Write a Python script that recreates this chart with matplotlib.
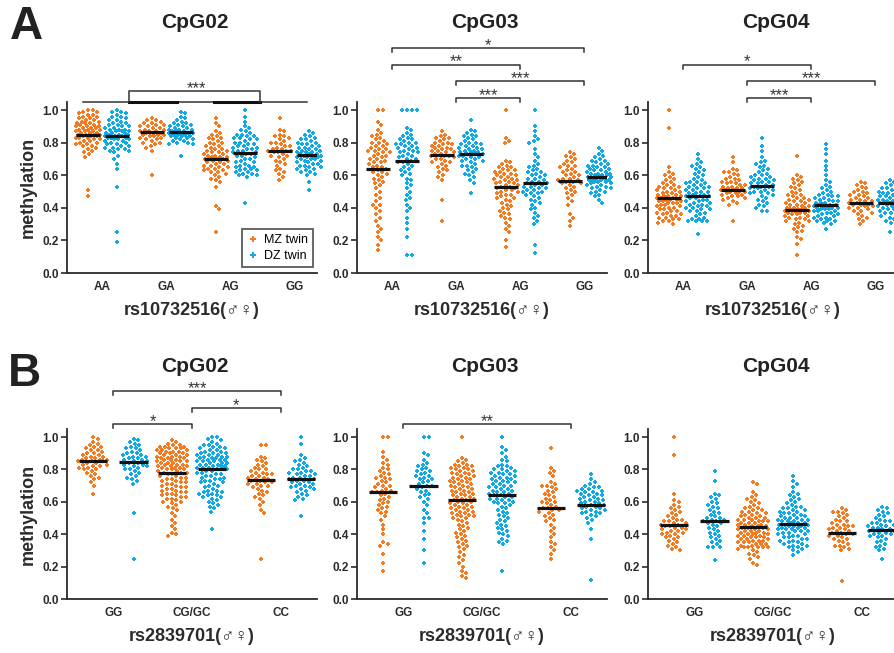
import numpy as np
import matplotlib
matplotlib.use("Agg")
import matplotlib.pyplot as plt
from matplotlib.lines import Line2D

plt.rcParams['font.family'] = ['Liberation Sans', 'DejaVu Sans']

MZ_COLOR = '#F47B20'
DZ_COLOR = '#11A9E6'
INK = '#2b2b2b'

# ---------------- data (methylation x 100) ----------------
geno_a = ['AA', 'GA', 'AG', 'GG']
geno_b = ['GG', 'CG/GC', 'CC']
cpgs = ['CpG02', 'CpG03', 'CpG04']

# rs10732516, CpG02
a02_aa_mz = [100,100,99,99,98,97,97,96,96,95,95,94,94,93,93,92,92,92,91,91,90,90,90,89,89,89,88,88,88,87,87,87,86,86,86,85,85,85,85,84,84,84,83,83,83,82,82,81,81,80,80,79,79,78,78,77,76,75,74,73,71,51,47]
a02_aa_dz = [100,99,99,98,97,96,96,95,94,94,93,92,92,91,91,90,90,89,89,88,88,88,87,87,87,86,86,86,85,85,85,84,84,84,83,83,83,82,82,82,81,81,80,80,79,79,78,78,77,77,76,76,75,75,74,72,70,67,64,53,25,19]
a02_ga_mz = [95,94,94,93,92,92,91,91,90,90,89,89,88,88,87,87,87,86,86,86,85,85,85,84,84,83,83,82,82,81,80,80,79,78,77,75,60]
a02_ga_dz = [99,98,96,95,94,93,92,92,91,91,90,90,89,89,88,88,88,87,87,87,86,86,86,86,85,85,85,84,84,84,83,83,82,82,81,81,80,80,79,79,72]
a02_ag_mz = [95,92,90,87,86,85,84,83,83,82,81,80,80,79,78,78,77,76,76,75,75,74,74,73,73,72,72,71,71,71,70,70,70,70,69,69,68,68,67,67,66,66,65,65,64,64,63,63,62,62,61,60,59,58,57,56,53,41,39,25]
a02_ag_dz = [100,96,93,90,89,88,87,86,85,85,84,84,83,83,82,82,81,80,80,79,79,78,78,77,77,76,76,75,75,74,74,73,73,72,72,71,70,70,69,68,68,67,66,66,65,65,64,64,63,63,62,62,61,61,60,60,59,43]
a02_gg_mz = [95,88,87,85,84,84,83,82,81,80,80,79,78,78,77,76,76,75,75,75,74,74,73,72,72,71,70,69,68,67,66,64,63,62,61,59,57]
a02_gg_dz = [87,86,85,84,83,82,82,81,80,80,79,79,78,78,77,77,76,76,75,75,74,74,74,73,73,73,72,72,72,71,71,71,70,70,70,69,69,68,68,67,67,66,66,65,65,64,64,63,62,62,61,60,56,51]

# rs10732516, CpG03
a03_aa_mz = [100,100,93,91,88,86,85,84,83,82,81,80,80,79,78,78,77,76,76,75,75,74,74,73,72,72,71,70,70,69,68,68,67,66,65,65,64,63,62,62,61,60,59,58,57,56,55,54,52,50,48,46,44,42,42,40,38,36,34,32,29,27,25,22,20,17,14]
a03_aa_dz = [100,100,100,100,89,88,86,85,84,83,82,82,81,80,80,79,79,78,78,77,77,76,75,75,74,74,73,72,72,71,70,70,69,68,68,67,66,65,64,63,62,61,60,58,57,55,54,52,50,48,46,45,42,40,38,34,31,27,22,11,11]
a03_ga_mz = [87,85,84,83,83,82,81,80,80,79,79,78,78,77,77,76,76,75,75,74,74,73,73,72,72,72,71,70,70,69,68,68,67,66,65,64,63,62,60,59,57,45,32]
a03_ga_dz = [94,88,87,86,85,84,84,83,82,81,80,80,79,79,78,78,77,77,76,76,75,75,74,74,74,73,73,73,72,72,71,71,70,70,69,69,68,67,66,66,65,64,63,62,61,60,59,57,55,49]
a03_ag_mz = [100,83,81,80,69,68,67,66,65,65,64,63,63,62,62,61,61,60,60,59,59,58,58,57,57,56,56,55,55,54,54,53,53,52,52,51,51,50,50,49,48,48,47,46,46,45,44,43,42,41,40,39,38,37,36,35,34,33,31,29,27,25,20,16]
a03_ag_dz = [100,90,87,84,82,81,80,76,73,71,69,67,66,65,64,63,62,62,61,60,60,59,58,58,57,56,56,55,55,54,54,53,53,52,52,51,51,50,50,49,49,48,47,46,45,44,43,42,40,39,37,35,34,32,30,17,12]
a03_gg_mz = [74,73,72,71,70,69,68,67,66,66,65,64,63,62,62,61,60,60,59,58,58,57,57,56,56,55,55,54,53,52,51,50,49,48,46,44,42,36,34,32,29]
a03_gg_dz = [77,75,73,72,71,70,69,69,68,67,67,66,66,65,65,64,64,63,63,62,62,61,61,61,60,60,60,59,59,59,58,58,58,57,57,57,56,56,56,55,55,54,54,53,53,52,52,51,50,50,49,48,47,45,43]

# rs10732516, CpG04
a04_aa_mz = [100,89,65,62,61,60,59,58,57,56,55,54,54,53,53,52,52,51,51,50,50,49,49,48,48,47,47,47,46,46,46,45,45,45,44,44,44,43,43,43,42,42,41,41,40,40,39,39,38,38,37,37,36,36,35,35,34,34,33,33,32,32,31,30]
a04_aa_dz = [73,70,68,67,66,65,64,63,62,61,60,59,58,57,56,56,55,55,54,54,53,53,52,52,51,51,50,50,49,49,48,48,47,47,47,46,46,45,45,44,44,43,43,42,42,41,41,40,40,39,39,38,38,37,36,35,34,33,33,32,32,32,32,24]
a04_ga_mz = [71,68,64,63,62,62,61,60,59,58,58,57,56,56,55,55,54,54,53,53,52,52,52,51,51,51,50,50,50,49,49,48,48,47,47,46,46,45,44,43,42,32]
a04_ga_dz = [83,78,75,71,69,68,67,66,65,64,63,62,61,60,60,59,59,58,58,57,57,56,56,55,55,54,54,53,53,53,52,52,51,51,50,50,49,49,48,47,46,45,44,43,42,41,40,38,38]
a04_ag_mz = [72,60,59,58,57,56,55,54,53,52,51,50,49,48,48,47,46,46,45,45,44,44,43,43,42,42,41,41,40,40,40,39,39,39,38,38,38,37,37,37,36,36,35,35,34,34,33,33,32,32,31,30,29,28,27,26,25,22,21,18,11]
a04_ag_dz = [79,76,73,69,66,63,60,57,56,54,53,52,51,50,49,48,48,47,47,46,46,45,45,44,44,43,43,43,42,42,42,41,41,41,40,40,40,39,39,39,38,38,38,37,37,36,36,35,35,34,34,33,33,32,32,32,31,30,27]
a04_gg_mz = [56,55,54,53,52,51,50,50,49,48,48,47,46,46,45,45,44,44,43,43,42,42,42,41,41,40,40,39,38,38,37,36,35,34,33,32,30]
a04_gg_dz = [57,56,55,54,53,52,52,51,50,50,49,49,48,48,47,47,46,46,45,45,45,44,44,44,43,43,43,42,42,42,41,41,40,40,39,39,38,38,37,37,36,36,35,34,33,32,31,30,25]

# rs2839701, CpG02
b02_gg_mz = [100,99,97,96,95,94,94,93,92,92,91,90,90,89,89,88,88,87,87,86,86,86,85,85,85,84,84,83,83,82,82,81,81,80,80,79,78,77,76,75,74,72,70,65]
b02_gg_dz = [99,98,97,96,95,94,93,93,92,91,90,90,89,89,88,88,87,87,86,86,85,85,84,84,83,83,82,82,81,80,80,79,78,77,76,75,74,73,71,53,25]
b02_cg_mz = [98,97,96,95,95,94,94,94,93,93,93,92,92,92,91,91,91,90,90,90,89,89,89,88,88,88,87,87,87,86,86,86,85,85,85,84,84,84,83,83,83,82,82,82,81,81,81,80,80,80,79,79,78,78,78,77,77,76,76,75,75,74,74,73,73,72,72,71,71,70,70,69,69,68,68,67,67,66,66,65,65,64,64,63,63,62,62,61,60,60,59,58,57,56,55,53,51,49,47,45,43,41,40,39]
b02_cg_dz = [100,100,99,98,97,96,95,95,94,94,93,93,92,92,91,91,90,90,90,89,89,89,88,88,88,87,87,87,86,86,86,85,85,85,84,84,84,83,83,83,82,82,82,81,81,81,80,80,80,79,79,78,78,77,77,76,76,75,75,74,74,73,73,72,72,71,70,70,69,68,67,67,66,66,65,65,64,64,63,63,62,61,60,59,58,57,56,54,43]
b02_cc_mz = [95,95,88,87,86,85,84,83,82,81,80,80,79,78,78,77,77,76,76,75,75,74,74,73,73,72,72,71,71,70,70,69,68,67,66,65,64,63,62,60,58,55,53,25]
b02_cc_dz = [100,96,89,87,86,85,84,83,82,81,80,80,79,79,78,78,77,77,76,76,75,75,74,74,73,73,72,72,71,71,70,70,69,69,68,68,67,66,65,64,63,62,61,51]

# rs2839701, CpG03
b03_gg_mz = [100,100,91,88,86,84,83,81,80,79,78,77,76,75,75,74,73,72,71,70,70,69,68,67,67,66,66,65,64,63,62,61,60,59,58,57,56,55,54,53,51,49,46,43,40,35,34,33,28,22,17]
b03_gg_dz = [100,100,90,89,86,84,83,82,81,80,79,79,78,77,76,76,75,74,74,73,72,71,70,70,69,68,67,66,65,64,63,62,60,58,55,53,50,50,47,42,37,30,22]
b03_cg_mz = [100,87,86,85,84,83,83,82,82,81,81,80,80,79,79,78,78,77,77,76,76,75,75,74,74,73,73,72,72,71,71,70,70,69,69,68,68,67,67,66,66,65,65,64,64,63,63,62,62,61,61,60,60,59,59,58,58,57,57,56,56,55,55,54,54,53,53,52,52,51,51,50,50,49,48,47,46,45,44,43,42,41,40,39,38,37,36,35,34,33,32,31,29,27,26,24,22,20,17,16,14,13]
b03_cg_dz = [100,94,92,90,88,86,85,83,82,82,81,80,80,79,79,78,78,77,77,76,76,75,75,74,74,73,73,72,72,71,71,70,70,69,69,68,68,67,67,66,66,65,65,64,64,63,63,62,62,61,61,60,60,59,59,58,57,56,55,54,53,52,51,50,49,48,47,46,45,44,43,42,41,40,39,37,36,35,34,17]
b03_cc_mz = [93,81,79,78,76,72,71,70,70,69,68,67,66,65,64,63,62,61,60,60,59,58,57,56,56,55,55,54,53,52,51,50,49,48,46,44,42,40,38,35,34,32,30,28,25]
b03_cc_dz = [77,74,72,71,70,69,69,68,68,67,67,66,66,65,65,64,64,63,63,62,62,61,61,60,60,59,59,58,58,57,57,56,56,55,55,54,54,53,53,52,51,50,49,47,43,37,12]

# rs2839701, CpG04
b04_gg_mz = [100,89,65,61,60,58,57,56,55,54,53,52,51,50,49,49,48,48,47,47,46,46,45,45,44,44,43,43,42,42,41,41,40,40,39,38,38,37,36,35,34,33,32,31,30]
b04_gg_dz = [79,73,65,64,63,62,60,59,58,57,56,55,54,53,52,51,50,50,49,49,48,48,47,47,46,45,44,43,42,41,40,39,38,37,36,35,34,32,32,32,24]
b04_cg_mz = [72,71,66,64,63,62,61,60,59,58,57,56,56,55,55,54,54,53,53,52,52,51,51,50,50,50,49,49,49,48,48,48,47,47,47,46,46,46,45,45,45,44,44,44,43,43,43,42,42,42,41,41,41,40,40,40,39,39,39,38,38,38,37,37,37,36,36,36,35,35,35,34,34,34,33,33,32,32,32,32,32,31,30,29,28,27,26,25,22,21]
b04_cg_dz = [76,73,71,69,66,65,64,63,62,61,60,59,58,57,57,56,56,55,55,54,54,53,53,52,52,51,51,50,50,50,49,49,49,48,48,48,47,47,47,46,46,46,45,45,45,44,44,44,43,43,43,42,42,42,41,41,40,40,39,39,38,38,37,37,36,36,35,35,34,34,33,33,32,32,31,30,29,27]
b04_cc_mz = [56,55,54,54,53,52,51,50,49,48,48,47,46,46,45,45,44,44,43,43,42,42,41,41,40,40,39,39,38,37,37,36,35,34,33,33,32,31,30,11]
b04_cc_dz = [57,56,55,54,53,52,51,50,49,48,48,47,47,46,46,45,45,44,44,43,43,42,42,41,41,40,40,39,39,38,37,36,35,34,33,32,31,30,25]

# medians, order: MZ, DZ per genotype
med_a02 = [85, 84, 86.5, 86.5, 70, 73.5, 75, 72.5]
med_a03 = [64, 68.5, 72.5, 73, 53, 55.5, 56.5, 59]
med_a04 = [46, 47.5, 51, 53.5, 38.5, 42, 43, 43]
med_b02 = [85.5, 84.5, 78, 80, 73.5, 74]
med_b03 = [66, 70, 61, 64, 56, 58]
med_b04 = [45.5, 48, 44.5, 46.5, 41, 42.5]

# significance brackets: (group1, group2, height, label)
sig_a03 = [(0, 3, 1.382, '*'), (0, 2, 1.28, '**'), (1, 3, 1.178, '***'), (1, 2, 1.075, '***')]
sig_a04 = [(0, 2, 1.28, '*'), (1, 3, 1.178, '***'), (1, 2, 1.075, '***')]
sig_b02 = [(0, 2, 1.284, '***'), (1, 2, 1.181, '*'), (0, 1, 1.08, '*')]
sig_b03 = [(0, 2, 1.08, '**')]

rows = [
    dict(geno=geno_a, snp='rs10732516(\u2642\u2640)', pos=[0, 1, 2, 3], off=14.5 / 63.5,
         ppx=63.5, xlim=(-0.551, 3.354), half=12, cap=12,
         groups=[[a02_aa_mz, a02_aa_dz, a02_ga_mz, a02_ga_dz, a02_ag_mz, a02_ag_dz, a02_gg_mz, a02_gg_dz],
                 [a03_aa_mz, a03_aa_dz, a03_ga_mz, a03_ga_dz, a03_ag_mz, a03_ag_dz, a03_gg_mz, a03_gg_dz],
                 [a04_aa_mz, a04_aa_dz, a04_ga_mz, a04_ga_dz, a04_ag_mz, a04_ag_dz, a04_gg_mz, a04_gg_dz]],
         meds=[med_a02, med_a03, med_a04], sigs=[[], sig_a03, sig_a04]),
    dict(geno=geno_b, snp='rs2839701(\u2642\u2640)', pos=[0, 1, 2.13], off=20 / 78.0,
         ppx=78.0, xlim=(-0.59, 2.59), half=14, cap=15,
         groups=[[b02_gg_mz, b02_gg_dz, b02_cg_mz, b02_cg_dz, b02_cc_mz, b02_cc_dz],
                 [b03_gg_mz, b03_gg_dz, b03_cg_mz, b03_cg_dz, b03_cc_mz, b03_cc_dz],
                 [b04_gg_mz, b04_gg_dz, b04_cg_mz, b04_cg_dz, b04_cc_mz, b04_cc_dz]],
         meds=[med_b02, med_b03, med_b04], sigs=[sig_b02, sig_b03, []]),
]


def swarm(vals, ppx, ppy, cap, d=4.7):
    # beeswarm with a max half width; when full, take the least crowded slot
    y = np.asarray(vals, float) / 100 * ppy
    cand = [0.0]
    for k in np.arange(0.5, cap + 0.01, 0.5):
        cand += [k, -k]
    cand = np.array(cand)
    xs = np.zeros(len(y))
    px, py = [], []
    for i in np.argsort(-y):
        c = 0.0
        if px:
            ax_ = np.array(px)
            ay_ = np.array(py)
            near = np.abs(ay_ - y[i]) < d
            if near.any():
                dist2 = (cand[:, None] - ax_[near][None, :]) ** 2 + (y[i] - ay_[near][None, :]) ** 2
                mind = dist2.min(axis=1)
                ok = np.where(mind >= d * d)[0]
                c = cand[ok[0]] if len(ok) else cand[np.argmax(mind)]
        xs[i] = c
        px.append(c)
        py.append(y[i])
    return xs / ppx


W, H = 895, 653
fig = plt.figure(figsize=(W / 100, H / 100), dpi=100)

col_left = [67, 357, 648]
row_geom = [(273, 102), (599, 429)]   # (y of 0.0, y of top) in px

for r, row in enumerate(rows):
    y0, ytop = row_geom[r]
    ppy = (y0 - ytop) / 1.05
    for c in range(3):
        ax = fig.add_axes([col_left[c] / W, (H - y0) / H, 250 / W, (y0 - ytop) / H])
        groups = row['groups'][c]
        meds = row['meds'][c]
        for g in range(len(row['geno'])):
            for t, color in enumerate([MZ_COLOR, DZ_COLOR]):
                vals = groups[2 * g + t]
                xc = row['pos'][g] + (-1 if t == 0 else 1) * row['off']
                xo = swarm(vals, row['ppx'], ppy, row['cap'])
                ax.scatter(xc + xo, np.asarray(vals) / 100, s=9, marker='P', color=color,
                           linewidths=0, zorder=2, clip_on=False)
                hw = row['half'] / row['ppx']
                ax.plot([xc - hw, xc + hw], [meds[2 * g + t] / 100] * 2, color='#111111',
                        lw=2.3, zorder=3, solid_capstyle='butt')

        ax.set_xlim(*row['xlim'])
        ax.set_ylim(0, 1.05)
        ax.set_xticks(row['pos'])
        ax.set_xticklabels(row['geno'], fontsize=8.5, fontweight='bold', color=INK)
        ax.tick_params(axis='x', length=0, pad=6)
        ax.set_yticks([0, 0.2, 0.4, 0.6, 0.8, 1.0])
        ax.set_yticklabels(['0.0', '0.2', '0.4', '0.6', '0.8', '1.0'], fontsize=8.5,
                           fontweight='bold', color=INK)
        ax.tick_params(axis='y', length=4, width=1.2, color=INK, pad=2)
        for s in ['top', 'right']:
            ax.spines[s].set_visible(False)
        for s in ['left', 'bottom']:
            ax.spines[s].set_color(INK)
            ax.spines[s].set_linewidth(1.3)
        ax.set_facecolor('none')
        ax.set_xlabel(row['snp'], fontsize=13, fontweight='bold', color=INK, labelpad=6)
        if c == 0:
            ax.set_ylabel('methylation', fontsize=13, fontweight='bold', color=INK, labelpad=4)

        for g1, g2, h, lab in row['sigs'][c]:
            x1, x2 = row['pos'][g1], row['pos'][g2]
            ax.plot([x1, x1, x2, x2], [h - 0.025, h, h, h - 0.025], color='#333333', lw=1.1,
                    clip_on=False)
            ax.text((x1 + x2) / 2, h - 0.012, lab, ha='center', va='baseline', fontsize=12,
                    color='#333333', clip_on=False)

        if r == 0 and c == 0:
            # combined bracket over all genotypes
            ax.plot([-0.30, 3.20], [1.052, 1.052], color='#333333', lw=1.1, clip_on=False)
            ax.plot([0.425, 1.165], [1.052, 1.052], color='#111111', lw=2.2, clip_on=False)
            ax.plot([1.748, 2.457], [1.052, 1.052], color='#111111', lw=2.2, clip_on=False)
            ax.plot([0.425, 0.425, 2.457, 2.457], [1.052, 1.117, 1.117, 1.052],
                    color='#333333', lw=1.1, clip_on=False)
            ax.text(1.465, 1.105, '***', ha='center', va='baseline', fontsize=12,
                    color='#333333', clip_on=False)
            hs = [Line2D([], [], marker='P', ls='none', color=MZ_COLOR, markersize=4, mew=0),
                  Line2D([], [], marker='P', ls='none', color=DZ_COLOR, markersize=4, mew=0)]
            leg = ax.legend(hs, ['MZ twin', 'DZ twin'], loc='lower right',
                            bbox_to_anchor=(0.984, 0.035), borderaxespad=0, fontsize=9,
                            fancybox=False, handlelength=1.0, handletextpad=0.4,
                            borderpad=0.4, labelspacing=0.3)
            leg.get_frame().set_edgecolor('#333333')
            leg.get_frame().set_linewidth(1.3)

        tx = (col_left[c] + 128) / W
        ty = 1 - (23 if r == 0 else 367) / H
        fig.text(tx, ty, cpgs[c], ha='center', va='center', fontsize=15, fontweight='bold',
                 color='#222222')

fig.text(26 / W, 1 - 27 / H, 'A', ha='center', va='center', fontsize=33, fontweight='bold',
         color='#222222')
fig.text(24 / W, 1 - 374 / H, 'B', ha='center', va='center', fontsize=33, fontweight='bold',
         color='#222222')

fig.savefig('out.png', dpi=100)
